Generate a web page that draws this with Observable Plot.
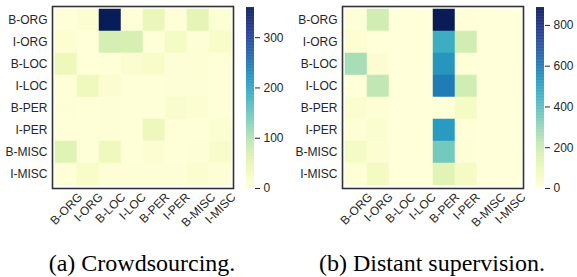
<!DOCTYPE html>
<html>
<head>
<meta charset="utf-8">
<script src="https://cdn.jsdelivr.net/npm/d3@7"></script>
<script src="https://cdn.jsdelivr.net/npm/@observablehq/plot@0.6"></script>
<style>
  html, body { margin: 0; padding: 0; background: #fff; overflow: hidden; }
  #root { position: relative; width: 577px; height: 277px; }
  .pane { position: absolute; top: 0; }
  .caption { position: absolute; font-family: "Liberation Serif", "DejaVu Serif", serif; font-size: 24px; line-height: 1; color: #000; white-space: nowrap; top: 251px; width: 300px; text-align: center; }
</style>
</head>
<body>
<div id="root"></div>
<script>
const labels = ["B-ORG","I-ORG","B-LOC","I-LOC","B-PER","I-PER","B-MISC","I-MISC"];

// rows = true label (y), columns = predicted label (x)
const crowdValues = [
  [2, 8, 360, 2, 43, 3, 50, 7],
  [8, 1, 72, 70, 2, 25, 5, 18],
  [40, 1, 2, 10, 18, 4, 6, 3],
  [3, 35, 10, 2, 3, 5, 4, 3],
  [5, 3, 4, 2, 2, 14, 8, 3],
  [2, 3, 4, 2, 38, 3, 3, 9],
  [60, 2, 35, 2, 8, 3, 4, 16],
  [3, 20, 4, 4, 5, 5, 10, 4]
];
const distantValues = [
  [5, 185, 0, 0, 888, 5, 0, 0],
  [20, 2, 0, 0, 465, 185, 0, 0],
  [270, 25, 0, 0, 535, 5, 0, 0],
  [3, 222, 0, 0, 600, 190, 0, 0],
  [25, 15, 0, 0, 2, 60, 0, 0],
  [8, 28, 0, 0, 525, 5, 0, 0],
  [60, 20, 0, 0, 355, 8, 0, 0],
  [5, 70, 0, 0, 140, 55, 0, 0]
];
const crowdMax = 360, distantMax = 888;
const crowdTicks = [0, 100, 200, 300];
const distantTicks = [0, 200, 400, 600, 800];
const captions = ["(a) Crowdsourcing.", "(b) Distant supervision."];

const root = document.getElementById("root");
const fontStyle = {fontFamily: "'Liberation Sans', Arial, sans-serif", fontSize: "12px", color: "#262626", background: "transparent", overflow: "visible"};

const ctx = document.createElement("canvas").getContext("2d");
ctx.font = "12px 'Liberation Sans'";
const textW = s => ctx.measureText(s).width;

function heatmap(values, max) {
  const data = values.flatMap((row, i) => row.map((v, j) => ({y: labels[i], x: labels[j], value: v})));
  // x tick labels: rotated 45°, centred on the tick (matplotlib ha="center", va="top")
  const xLabelMarks = labels.map(l => Plot.text([l], {
    x: d => d, frameAnchor: "bottom", rotate: -45,
    textAnchor: "middle", lineAnchor: "middle",
    dy: 3 + (textW(l) + 10) * 0.3535, fill: "#262626"
  }));
  return Plot.plot({
    width: 240, height: 238,
    marginLeft: 52, marginRight: 7, marginTop: 6, marginBottom: 50,
    x: {domain: labels, padding: 0, axis: null},
    y: {domain: labels, padding: 0, tickSize: 0, tickPadding: 5, label: null},
    color: {type: "linear", scheme: "ylgnbu", domain: [0, max]},
    style: fontStyle,
    marks: [
      Plot.cell(data, {x: "x", y: "y", fill: "value", stroke: "value", strokeWidth: 0.5, inset: 0}),
      Plot.frame({stroke: "#333", strokeWidth: 1.6}),
      ...xLabelMarks
    ]
  });
}

function colorbar(max, ticks) {
  const step = max / 300;
  const steps = d3.range(0, max, step);
  return Plot.plot({
    width: 44, height: 238,
    marginLeft: 0, marginRight: 36, marginTop: 7, marginBottom: 50,
    x: {domain: [0, 1], axis: null},
    y: {domain: [0, max], axis: "right", ticks: ticks, tickSize: 5, tickPadding: 4, label: null},
    color: {type: "linear", scheme: "ylgnbu", domain: [0, max]},
    style: fontStyle,
    marks: [
      Plot.rect(steps, {x1: 0, x2: 1, y1: d => d, y2: d => Math.min(max, d + step * 1.5), fill: d => d + step / 2})
    ]
  });
}

function place(node, left) {
  node.classList.add("pane");
  node.style.left = left + "px";
  root.appendChild(node);
}

place(heatmap(crowdValues, crowdMax), 0);
place(colorbar(crowdMax, crowdTicks), 246);
place(heatmap(distantValues, distantMax), 290);
place(colorbar(distantMax, distantTicks), 536);

[[captions[0], 142], [captions[1], 432]].forEach(([t, cx]) => {
  const d = document.createElement("div");
  d.className = "caption";
  d.textContent = t;
  d.style.left = (cx - 150) + "px";
  root.appendChild(d);
});
</script>
</body>
</html>
